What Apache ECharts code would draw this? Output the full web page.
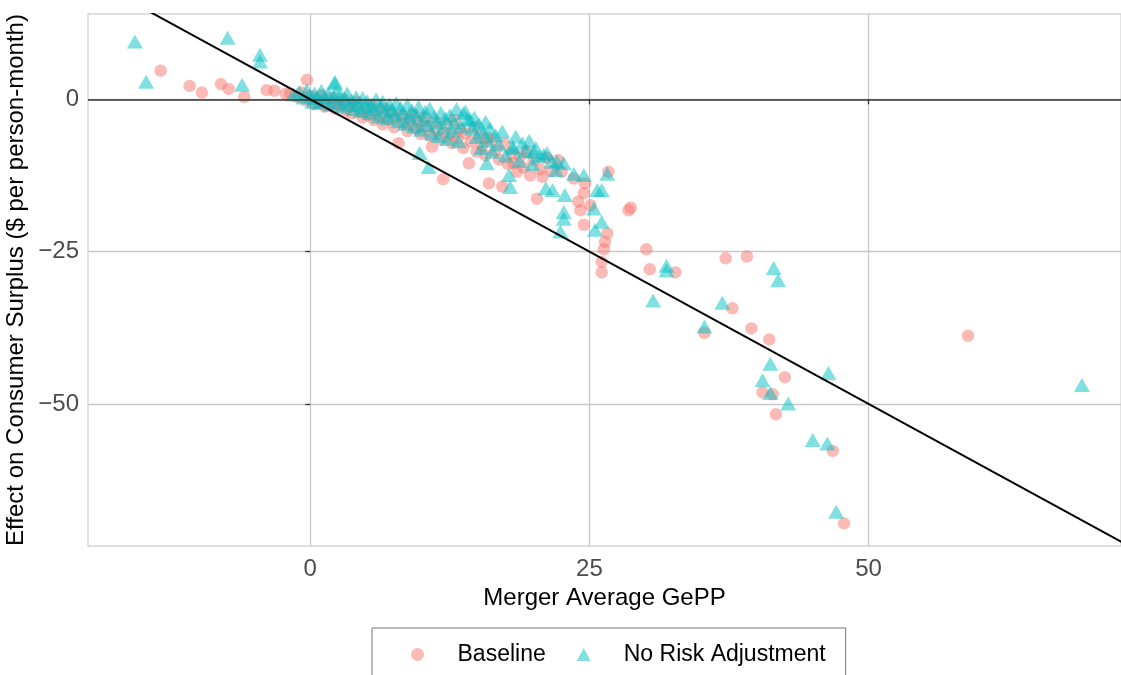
<!DOCTYPE html>
<html>
<head>
<meta charset="utf-8">
<title>Consumer surplus vs GePP</title>
<script src="https://cdn.jsdelivr.net/npm/echarts@6/dist/echarts.min.js"></script>
<style>
  html, body { margin: 0; padding: 0; background: #fff; }
  #chart { width: 1121px; height: 675px; }
</style>
</head>
<body>
<div id="chart"></div>
<script>
// Merger Average GePP (x) vs Effect on Consumer Surplus (y)
const baseline = [
  [-13.4, 4.7], [-10.8, 2.2], [-9.7, 1.1], [-8.0, 2.5], [-7.3, 1.7], [-5.9, 0.4],
  [-3.9, 1.5], [-3.2, 1.4], [-2.2, 0.9], [-0.3, 3.2],
  [-1.8, 0.9], [-1.2, 0.4], [-0.8, 1.1], [-0.4, -0.2], [0.0, 0.6], [0.3, -0.8],
  [0.5, 0.2], [0.8, -0.4], [1.0, 0.7], [1.3, -1.2], [1.5, -0.1], [1.8, -0.7],
  [2.0, 0.3], [2.2, -1.5], [2.5, -0.5], [2.7, -1.0], [3.0, 0.0], [3.2, -1.8],
  [3.5, -0.8], [3.7, -2.3], [4.0, -1.2], [4.2, -0.4], [4.5, -2.0], [4.7, -3.0],
  [5.0, -1.4], [5.2, -2.6], [5.5, -0.9], [5.7, -3.4], [6.0, -1.9], [6.2, -2.8],
  [6.5, -4.1], [6.7, -1.5], [7.0, -3.3], [7.2, -2.2], [7.5, -4.6], [7.7, -3.0],
  [7.9, -7.2], [8.2, -2.6], [8.4, -4.0], [8.7, -5.2], [8.9, -3.4], [9.2, -2.4],
  [9.4, -4.8], [9.7, -3.8], [9.9, -5.7], [10.2, -3.0], [10.4, -4.4], [10.7, -6.0],
  [10.9, -7.8], [11.2, -3.6], [11.4, -5.2], [11.7, -6.6], [11.9, -13.1], [12.2, -4.2],
  [12.4, -5.8], [12.7, -7.2], [12.9, -3.4], [13.2, -6.4], [13.4, -4.9], [13.7, -8.0],
  [13.9, -5.6], [14.2, -10.5], [14.4, -6.9], [14.7, -4.6], [14.9, -8.6], [15.2, -6.1],
  [15.4, -7.6], [15.7, -9.2], [15.9, -6.4], [16.0, -13.8], [16.3, -6.7], [16.6, -8.4],
  [16.9, -9.9], [17.2, -14.3], [17.4, -7.3], [17.7, -10.6], [18.0, -8.9], [18.2, -10.5],
  [18.5, -11.9], [18.8, -9.4], [19.1, -11.2], [19.4, -8.6], [19.7, -12.5], [20.0, -10.0],
  [20.3, -16.3], [20.6, -11.5], [20.8, -12.7], [21.2, -9.6], [21.6, -11.8], [22.2, -10.0],
  [22.5, -11.9], [23.6, -13.0], [24.0, -16.8], [24.2, -18.2], [24.5, -20.6], [24.5, -15.4],
  [24.6, -13.8], [25.1, -17.4], [26.1, -26.7], [26.1, -28.4], [26.3, -24.6], [26.4, -23.4],
  [26.6, -22.0], [26.7, -11.9], [28.5, -18.2], [28.7, -17.8],
  [30.1, -24.6], [30.4, -27.9], [32.7, -28.4], [35.3, -38.3], [37.2, -26.1], [37.8, -34.3],
  [39.1, -25.8], [39.5, -37.6], [41.1, -39.4], [40.5, -48.1], [41.4, -48.4], [41.7, -51.7],
  [42.5, -45.6], [46.8, -57.7], [47.8, -69.6], [58.9, -38.8]
];

const noRiskAdj = [
  [-15.7, 9.5], [-14.7, 2.9], [-7.4, 10.1], [-4.5, 7.3], [-4.5, 6.2], [-6.1, 2.4],
  [2.2, 2.9], [2.2, 2.6],
  [-1.5, 0.8], [-1.0, 1.2], [-0.6, 0.3], [-0.3, 1.5], [0.0, 0.5], [0.2, -0.4],
  [0.4, 1.0], [0.6, 0.2], [0.8, -0.6], [1.0, 1.4], [1.2, 0.4], [1.4, -0.3],
  [1.6, 0.9], [1.8, -0.9], [2.1, 0.3], [2.3, 1.2], [2.5, -0.6], [2.7, 0.8],
  [2.9, -1.2], [3.1, 0.1], [3.3, 1.0], [3.5, -0.9], [3.7, -0.2], [3.9, -1.6],
  [4.1, 0.4], [4.3, -0.8], [4.5, -1.9], [4.7, 0.2], [4.9, -1.2], [5.1, -0.3],
  [5.3, -2.3], [5.5, -0.9], [5.7, -1.6], [5.9, 0.0], [6.1, -2.8], [6.3, -1.1],
  [6.5, -0.4], [6.7, -2.0], [6.9, -3.1], [7.1, -0.8], [7.3, -1.7], [7.5, -2.6],
  [7.7, -0.6], [7.9, -3.6], [8.1, -1.4], [8.3, -2.3], [8.5, -4.0], [8.7, -0.9],
  [8.9, -3.0], [9.1, -1.8], [9.3, -4.4], [9.5, -2.6], [9.7, -1.2], [9.8, -8.8],
  [9.9, -5.0], [10.1, -3.3], [10.3, -2.0], [10.5, -4.2], [10.6, -11.1], [10.7, -1.5],
  [10.9, -5.6], [11.1, -2.8], [11.3, -3.8], [11.5, -6.0], [11.7, -2.2], [11.9, -4.6],
  [12.1, -3.1], [12.3, -6.5], [12.5, -2.6], [12.7, -5.2], [12.9, -3.8], [13.1, -1.6],
  [13.3, -6.9], [13.5, -4.4], [13.7, -2.3], [13.9, -2.0], [14.1, -3.2], [14.3, -3.4],
  [14.5, -4.8], [14.7, -3.0], [14.9, -6.2], [15.1, -4.1], [15.3, -8.0], [15.5, -5.4],
  [15.7, -3.7], [15.8, -10.5], [15.9, -6.8], [16.1, -4.8], [16.3, -8.6], [16.6, -5.9],
  [16.9, -7.4], [17.2, -5.3], [17.5, -9.2], [17.8, -12.4], [17.9, -14.4], [18.1, -7.8],
  [18.2, -8.0], [18.4, -6.1], [18.7, -10.1], [19.0, -7.2], [19.3, -8.5], [19.6, -6.8],
  [19.9, -10.6], [20.0, -8.6], [20.2, -8.0], [20.5, -9.4], [20.9, -9.1], [21.1, -14.6],
  [21.2, -8.8], [21.6, -10.2], [21.7, -14.9], [22.0, -11.6], [22.1, -10.2], [22.4, -21.7],
  [22.7, -18.5], [22.7, -19.6], [22.7, -10.5], [22.8, -15.7], [23.6, -12.2], [24.5, -12.4],
  [25.4, -17.9], [25.5, -21.4], [25.7, -14.9], [26.1, -14.9], [26.1, -20.1], [26.6, -12.2],
  [30.7, -33.0], [31.9, -27.3], [31.9, -28.1], [35.3, -37.3], [36.9, -33.4], [41.5, -27.7],
  [41.9, -29.7], [41.2, -43.4], [40.5, -46.1], [41.2, -48.2], [42.8, -49.9], [46.4, -44.9],
  [45.0, -55.9], [46.3, -56.5], [47.1, -67.7], [69.1, -46.9]
];

// reference line y = -x, drawn as two end points
const refLine = [[-20, 20], [75, -75]];

const xTicks = [0, 25, 50];
const yTicks = [-50, -25, 0];

const fontFamily = '"Liberation Sans", Arial, sans-serif';

// R prints negatives with a real minus sign
const fmt = v => String(v).replace('-', '\u2212');

const chart = echarts.init(document.getElementById('chart'), null, { renderer: 'canvas' });

const option = {
  animation: false,
  backgroundColor: '#fff',
  grid: {
    left: 88, right: 0, top: 14, bottom: 129,
    outerBoundsMode: 'none',
    containLabel: false,
    show: true, borderColor: '#d4d4d4', borderWidth: 1.3
  },
  xAxis: {
    type: 'value',
    min: -19.9, max: 72.6,
    name: 'Merger Average GePP',
    nameLocation: 'middle',
    nameGap: 40,
    nameMoveOverlap: false,
    nameTextStyle: { fontFamily, fontSize: 24, color: '#000' },
    axisLine: { show: false },
    axisTick: { show: true, length: 5, customValues: xTicks, lineStyle: { color: '#333', width: 1.3 } },
    axisLabel: { customValues: xTicks, formatter: fmt, fontFamily, fontSize: 24, color: '#4d4d4d', margin: 11 },
    splitLine: { show: true, lineStyle: { color: '#c8c8c8', width: 1.3 } }
  },
  yAxis: {
    type: 'value',
    min: -73.3, max: 14,
    name: 'Effect on Consumer Surplus ($ per person-month)',
    nameLocation: 'middle',
    nameGap: 60,
    nameMoveOverlap: false,
    nameRotate: 90,
    nameTextStyle: { fontFamily, fontSize: 24, color: '#000' },
    axisLine: { show: false },
    axisTick: { show: true, length: 5, customValues: yTicks, lineStyle: { color: '#333', width: 1.3 } },
    axisLabel: { customValues: yTicks, formatter: fmt, fontFamily, fontSize: 24, color: '#4d4d4d', margin: 9 },
    splitLine: { show: true, lineStyle: { color: '#c8c8c8', width: 1.3 } }
  },
  legend: {
    left: 372, top: 628,
    data: [
      { name: 'Baseline', icon: 'circle' },
      { name: 'No Risk Adjustment', icon: 'triangle' }
    ],
    itemWidth: 14, itemHeight: 13, itemGap: 31,
    padding: [15, 20, 40, 39],
    borderColor: '#777', borderWidth: 1,
    textStyle: { fontFamily, fontSize: 23, color: '#000', padding: [0, 0, 0, 28] }
  },
  series: [
    {
      name: 'Baseline',
      type: 'scatter',
      data: baseline,
      symbol: 'circle',
      symbolSize: 12.5,
      itemStyle: { color: '#F8766D', opacity: 0.5 },
      z: 3
    },
    {
      name: 'No Risk Adjustment',
      type: 'scatter',
      data: noRiskAdj,
      symbol: 'triangle',
      symbolSize: [16, 14],
      itemStyle: { color: '#00BFC4', opacity: 0.5 },
      z: 4
    },
    {
      name: 'zero',
      type: 'line',
      data: [],
      markLine: {
        silent: true, symbol: 'none', label: { show: false },
        lineStyle: { color: '#333', width: 1.5, type: 'solid' },
        data: [{ yAxis: 0 }]
      },
      z: 2
    },
    {
      name: 'fit',
      type: 'line',
      data: refLine,
      showSymbol: false,
      clip: true,
      lineStyle: { color: '#000', width: 2 },
      z: 5
    }
  ]
};

chart.setOption(option);
</script>
</body>
</html>
